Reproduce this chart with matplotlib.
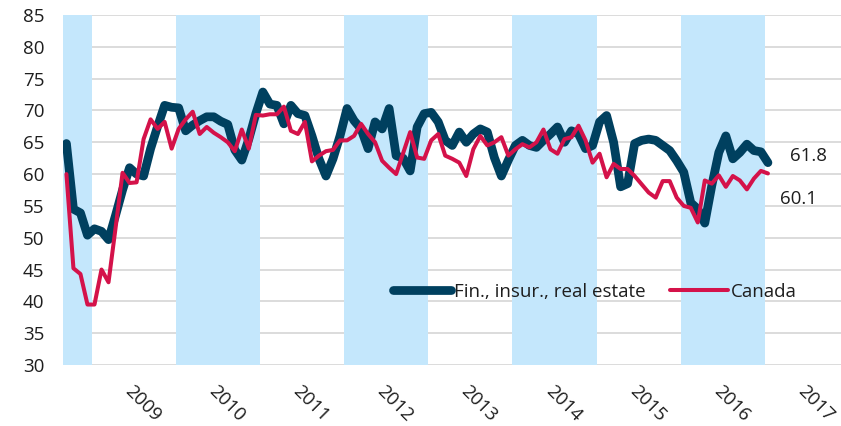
import matplotlib.pyplot as plt
import matplotlib.transforms as mtransforms
import numpy as np

plt.rcParams['font.family'] = ['Open Sans', 'DejaVu Sans']

# monthly readings, Sep 2008 .. Jan 2017
fin = [64.8, 54.5, 53.9, 50.4, 51.4, 51.0, 49.7, 53.5, 57.5, 61.0,
       60.0, 59.7, 64.0, 67.5, 70.8, 70.5, 70.4, 66.8, 67.7, 68.4,
       69.0, 69.0, 68.3, 67.8, 63.8, 62.2, 65.5, 69.5, 72.9, 71.0,
       70.8, 67.9, 70.8, 69.5, 69.2, 66.0, 62.4, 59.7, 62.4, 66.0,
       70.3, 68.4, 67.1, 64.0, 68.2, 67.1, 70.3, 62.9, 62.5, 60.5,
       67.4, 69.5, 69.7, 68.2, 65.3, 64.5, 66.6, 65.0, 66.3, 67.1,
       66.6, 62.6, 59.7, 62.2, 64.5, 65.3, 64.5, 64.2, 65.3, 66.3,
       67.4, 65.0, 66.8, 66.3, 64.0, 64.5, 68.2, 69.2, 65.0, 58.0,
       58.5, 64.8, 65.3, 65.5, 65.3, 64.5, 63.7, 62.1, 60.3, 55.5,
       54.5, 52.3, 58.2, 63.4, 66.0, 62.4, 63.4, 64.7, 63.7, 63.5,
       61.8]
canada = [60.0, 45.2, 44.3, 39.5, 39.5, 45.0, 43.0, 51.5, 60.2, 58.6,
          58.7, 65.5, 68.6, 67.1, 68.2, 64.0, 67.1, 68.6, 69.8, 66.3,
          67.4, 66.5, 65.8, 65.0, 63.6, 67.0, 64.0, 69.3, 69.2, 69.4,
          69.4, 70.6, 66.8, 66.3, 68.2, 62.0, 62.9, 63.6, 63.8, 65.3,
          65.3, 66.0, 67.9, 66.3, 65.0, 62.1, 61.0, 60.0, 63.3, 66.6,
          62.6, 62.4, 65.3, 66.3, 62.9, 62.4, 61.8, 59.7, 63.9, 66.0,
          64.5, 65.0, 65.8, 62.9, 63.9, 64.7, 64.2, 65.0, 67.0, 63.9,
          63.2, 65.5, 65.8, 67.6, 65.3, 61.8, 63.2, 59.5, 61.6, 60.8,
          60.8, 59.7, 58.4, 57.1, 56.3, 58.9, 58.9, 56.3, 55.0, 54.7,
          52.4, 59.0, 58.5, 59.8, 58.0, 59.7, 59.0, 57.6, 59.3, 60.5,
          60.1]
years = list(range(2009, 2018))
shaded_years = [2008, 2010, 2012, 2014, 2016]

dark = '#00405f'
red = '#d4124a'
band = '#c4e7fc'
text_col = '#1e1e1e'

x0, x1 = 2008.661, 2017.903
x = 2008 + 8 / 12 + 0.035 + np.arange(len(fin)) / 12

fig = plt.figure(figsize=(8.41, 4.26), dpi=100)
ax = fig.add_axes([63 / 841, 61 / 426, 778 / 841, 350 / 426])

for yr in shaded_years:
    ax.axvspan(max(yr, x0), yr + 1, color=band, lw=0, zorder=1)

ax.plot(x, fin, color=dark, lw=6.3, solid_capstyle='round',
        solid_joinstyle='round', zorder=3, label='Fin., insur., real estate')
ax.plot(x, canada, color=red, lw=2.9, solid_capstyle='round',
        solid_joinstyle='round', zorder=4, label='Canada')

ax.set_xlim(x0, x1)
ax.set_ylim(30, 85)
ax.set_yticks(range(30, 90, 5))
ax.grid(axis='y', color='#d9d9d9', lw=1.3)
ax.set_axisbelow(True)
for s in ax.spines.values():
    s.set_visible(False)

ax.set_xticks([y + 0.5 for y in years])
ax.set_xticklabels([str(y) for y in years], rotation=-45, ha='left',
                   va='top', rotation_mode='anchor')
shift = mtransforms.ScaledTranslation(-6 / 100, 0, fig.dpi_scale_trans)
for lbl in ax.get_xticklabels():
    lbl.set_transform(lbl.get_transform() + shift)
ax.tick_params(axis='both', length=0, labelsize=13.5, colors=text_col)
ax.tick_params(axis='x', pad=12)
ax.tick_params(axis='y', pad=13.5)

ax.text(2017.30, 62.8, f'{fin[-1]:.1f}', ha='left', va='center',
        fontsize=13.5, color=text_col)
ax.text(2017.18, 56.1, f'{canada[-1]:.1f}', ha='left', va='center',
        fontsize=13.5, color=text_col)

ax.legend(loc='center left', bbox_to_anchor=(0.424, 0.209), ncol=2,
          frameon=False, fontsize=13.5, handlelength=3.1,
          handletextpad=0.15, columnspacing=1.3, borderpad=0,
          borderaxespad=0, labelcolor=text_col)

fig.savefig('out.png', dpi=100)
